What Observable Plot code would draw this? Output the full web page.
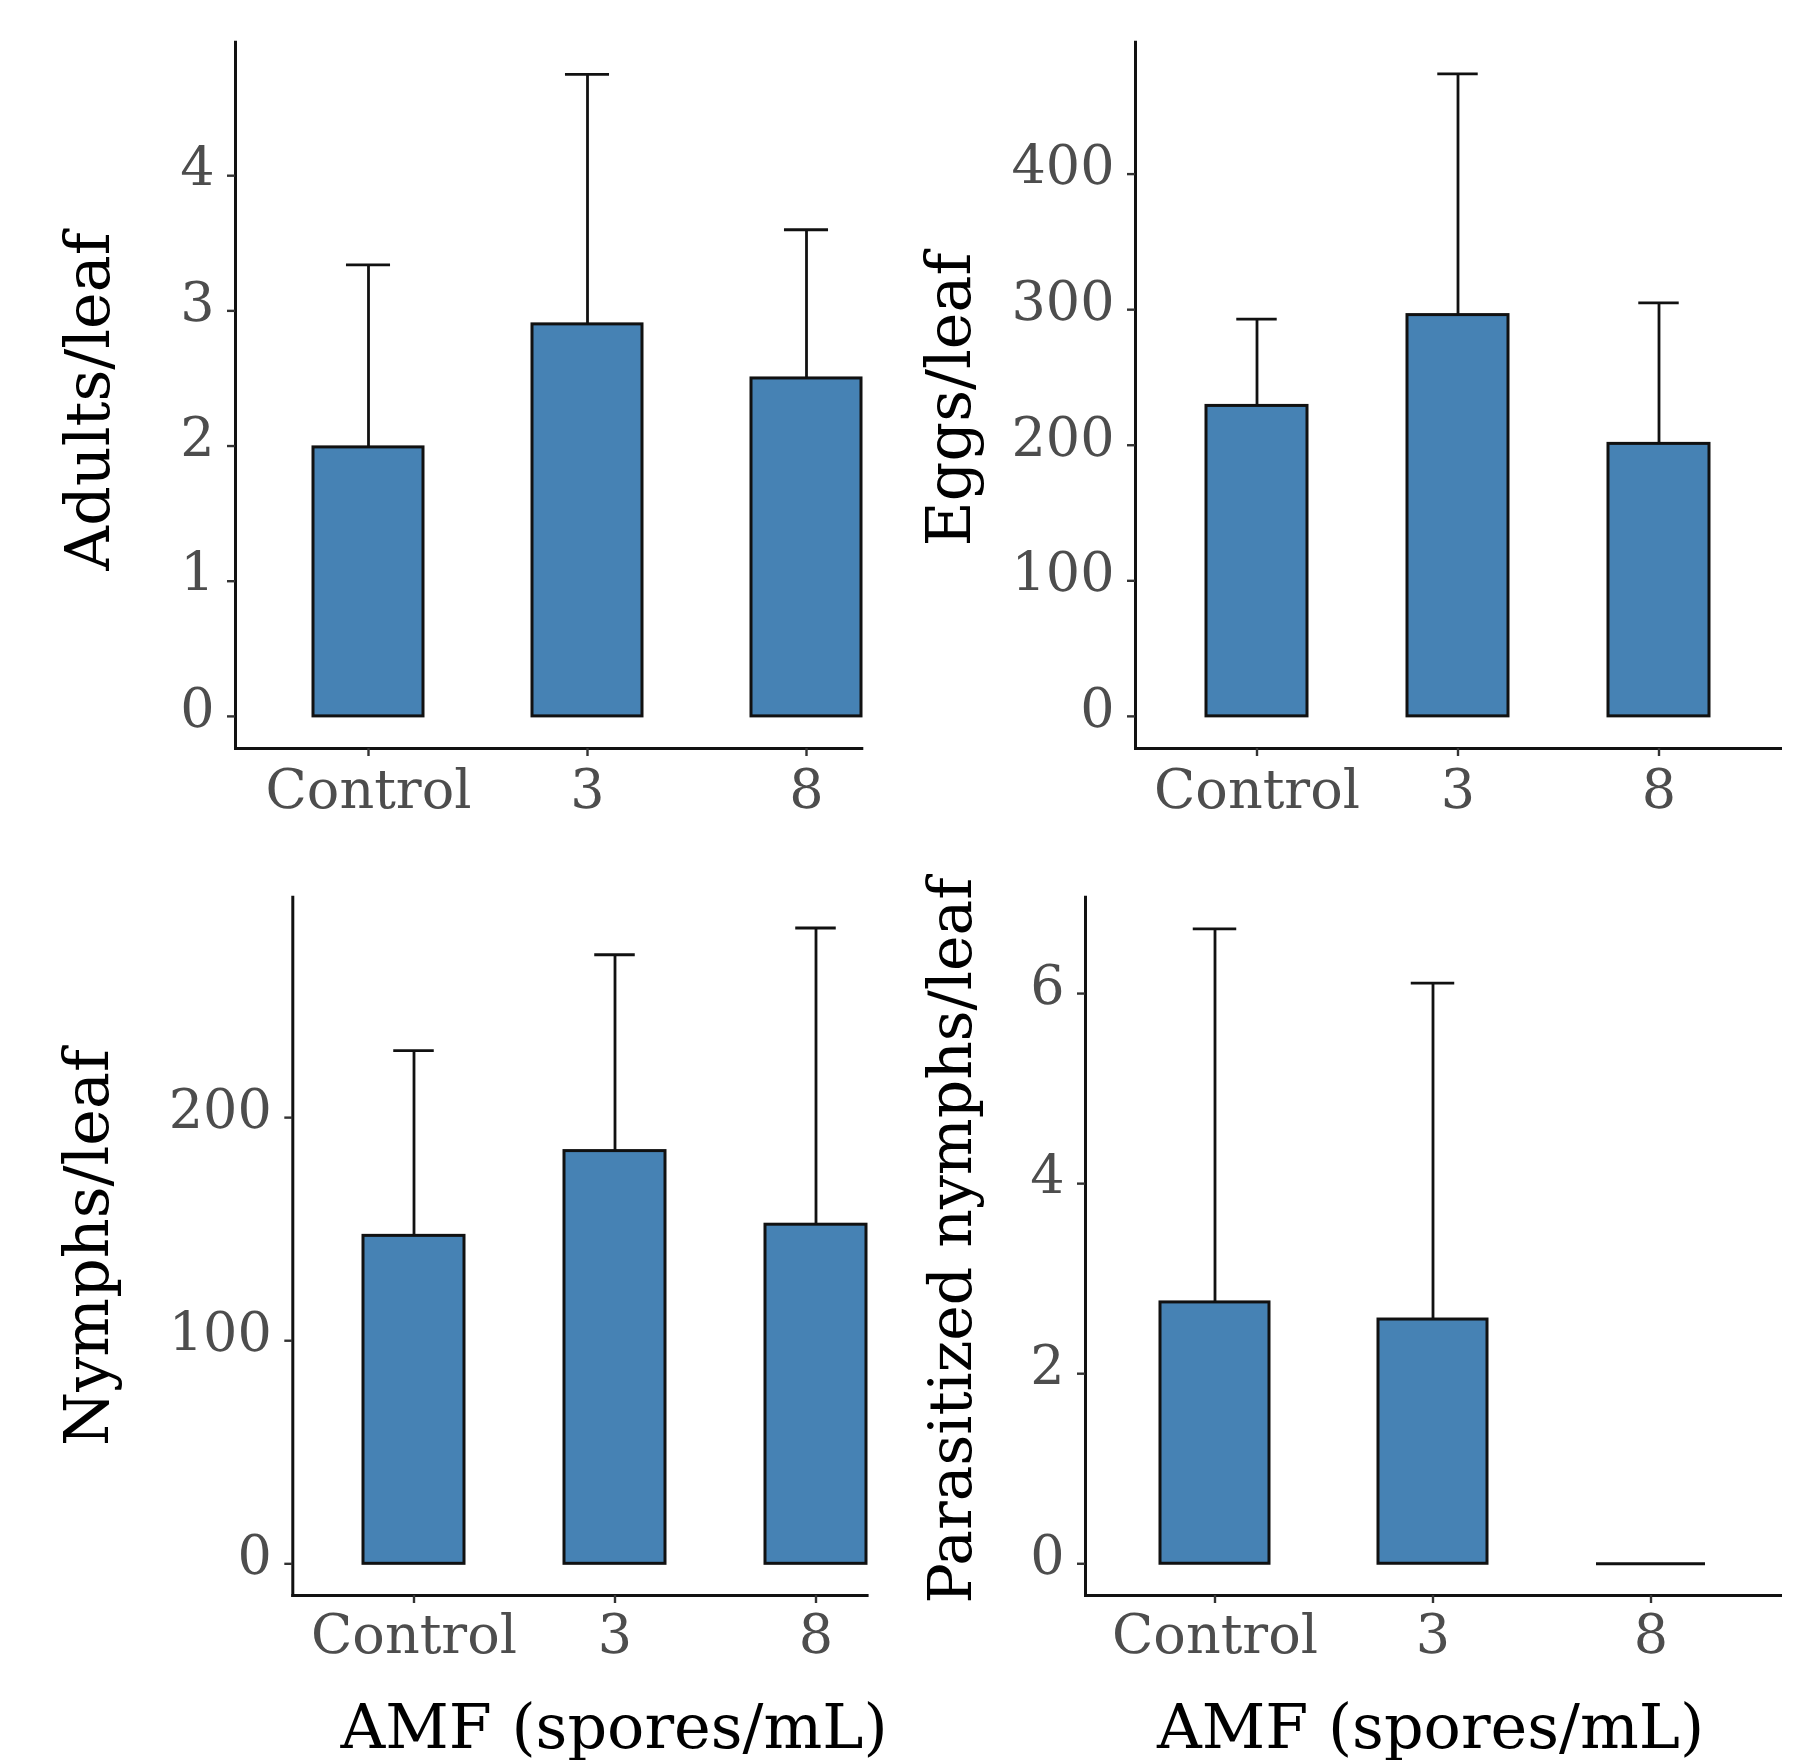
<!DOCTYPE html>
<html>
<head>
<meta charset="utf-8">
<script src="https://cdn.jsdelivr.net/npm/d3@7"></script>
<script src="https://cdn.jsdelivr.net/npm/@observablehq/plot@0.6"></script>
<style>
  html, body { margin: 0; padding: 0; background: white; }
  #chart { position: relative; width: 1796px; height: 1760px; background: white; font-family: "DejaVu Serif", serif; }
  .panel { position: absolute; }
</style>
</head>
<body>
<div id="chart"></div>
<script>
// ---- data ----
const categories = ["Control", "3", "8"];

const adultsMean  = [1.99, 2.90, 2.50];
const adultsUpper = [3.34, 4.75, 3.60];

const eggsMean  = [229, 296, 201];
const eggsUpper = [293, 474, 305];

const nymphsMean  = [147, 185, 152];
const nymphsUpper = [230, 273, 285];

const parasitizedMean  = [2.75, 2.57, 0];
const parasitizedUpper = [6.68, 6.11, 0];

const adultsTicks = [0, 1, 2, 3, 4];
const eggsTicks = [0, 100, 200, 300, 400];
const nymphsTicks = [0, 100, 200];
const parasitizedTicks = [0, 2, 4, 6];

const xTitle = "AMF (spores/mL)";

// ---- helpers ----
function rows(mean, upper) {
  return categories.map((c, i) => ({cat: c, mean: mean[i], upper: upper[i]}));
}

const BAR_FILL = "#4682b4";
const TICK_FONT = 54;
const TITLE_FONT = 62;

function panel(cfg) {
  const data = rows(cfg.mean, cfg.upper);
  const withErr = data.filter(d => d.upper > d.mean);
  const zeroBars = data.filter(d => d.mean === 0);
  const n = categories.length;
  const step = (cfg.xRange[1] - cfg.xRange[0]) / (n - 0.5);
  const bw = step * 0.5;
  const capInset = bw * 0.3;
  const marks = [
    Plot.barY(data, {x: "cat", y: "mean", fill: BAR_FILL, stroke: "#111", strokeWidth: 3}),
    Plot.tickY(zeroBars, {x: "cat", y: "mean", stroke: "#111", strokeWidth: 2.8}),
    Plot.ruleX(withErr, {x: "cat", y1: "mean", y2: "upper", stroke: "#111", strokeWidth: 2.8}),
    Plot.tickY(withErr, {x: "cat", y: "upper", insetLeft: capInset, insetRight: capInset, stroke: "#111", strokeWidth: 2.8}),
    Plot.frame({anchor: "left", stroke: "#111", strokeWidth: 3}),
    Plot.frame({anchor: "bottom", stroke: "#111", strokeWidth: 3}),
    // y tick marks
    Plot.axisY({ticks: cfg.ticks, tickSize: 8, tickFormat: () => "", stroke: "#333", strokeWidth: 2.4}),
    // y tick labels (nudged up like the reference)
    Plot.axisY({ticks: cfg.ticks, tickSize: 0, tickPadding: 21, dy: -7, fontSize: TICK_FONT, fill: "#4d4d4d", tickFormat: d => String(d)}),
    Plot.axisX({tickSize: 8, tickPadding: cfg.xPad, fontSize: TICK_FONT, fill: "#4d4d4d", stroke: "#333", strokeWidth: 2.4}),
    Plot.text([cfg.ylabel], {text: d => d, frameAnchor: "top-left", dx: cfg.yl[0], dy: cfg.yl[1], rotate: -90, textAnchor: "middle", lineAnchor: "bottom", fontSize: cfg.ylabelSize || TITLE_FONT, fill: "black"})
  ];
  if (cfg.xlabel) {
    marks.push(Plot.text([cfg.xlabel], {text: d => d, frameAnchor: "bottom", dx: cfg.xl[0], dy: cfg.xl[1], textAnchor: "middle", lineAnchor: "bottom", fontSize: TITLE_FONT, fill: "black"}));
  }
  const svg = Plot.plot({
    width: cfg.width,
    height: cfg.height,
    marginLeft: cfg.mL,
    marginRight: cfg.mR,
    marginTop: cfg.mT,
    marginBottom: cfg.mB,
    style: {fontFamily: "DejaVu Serif", background: "transparent", overflow: "visible"},
    x: {type: "band", domain: categories, range: cfg.xRange, paddingInner: 0.5, paddingOuter: 0, label: null},
    y: {domain: cfg.domain, label: null},
    marks
  });
  const div = document.createElement("div");
  div.className = "panel";
  div.style.left = cfg.left + "px";
  div.style.top = cfg.top + "px";
  div.appendChild(svg);
  document.getElementById("chart").appendChild(div);
}

// top-left: Adults
panel({
  mean: adultsMean, upper: adultsUpper, ticks: adultsTicks,
  domain: [-0.2375, 4.9875],
  left: 0, top: 0, width: 898, height: 880,
  mL: 235, mR: 898 - 861.3, mT: 41.7, mB: 880 - 748,
  xRange: [311.7, 861.3], xPad: 13,
  ylabel: "Adults/leaf", yl: [108 - 235, 401 - 41.7]
});

// top-right: Eggs
panel({
  mean: eggsMean, upper: eggsUpper, ticks: eggsTicks,
  domain: [-23.7, 497.3],
  left: 898, top: 0, width: 898, height: 880,
  mL: 1135 - 898, mR: 1796 - 1780, mT: 41.7, mB: 880 - 748,
  xRange: [1205.2 - 898, 1709.8 - 898], xPad: 13,
  ylabel: "Eggs/leaf", yl: [71 - 237, 399 - 41.7]
});

// bottom-left: Nymphs
panel({
  mean: nymphsMean, upper: nymphsUpper, ticks: nymphsTicks,
  domain: [-14.2, 298.8],
  left: 0, top: 880, width: 898, height: 880,
  mL: 292.3, mR: 898 - 866.6, mT: 896.7 - 880, mB: 880 - (1595 - 880),
  xRange: [362.6, 866.6], xPad: 11,
  ylabel: "Nymphs/leaf", yl: [108 - 292.3, 1247 - 896.7],
  xlabel: xTitle, xl: [613.5 - 579.45, 1747 - 1595]
});

// bottom-right: Parasitized nymphs
panel({
  mean: parasitizedMean, upper: parasitizedUpper, ticks: parasitizedTicks,
  domain: [-0.334, 7.014],
  left: 898, top: 880, width: 898, height: 880,
  mL: 1085 - 898, mR: 1796 - 1780, mT: 896.7 - 880, mB: 880 - (1595 - 880),
  xRange: [1159 - 898, 1705 - 898], xPad: 11,
  ylabel: "Parasitized nymphs/leaf", ylabelSize: 60, yl: [72 - 187, 1240 - 896.7],
  xlabel: xTitle, xl: [1430 - 1432.5, 1747 - 1595]
});
</script>
</body>
</html>
